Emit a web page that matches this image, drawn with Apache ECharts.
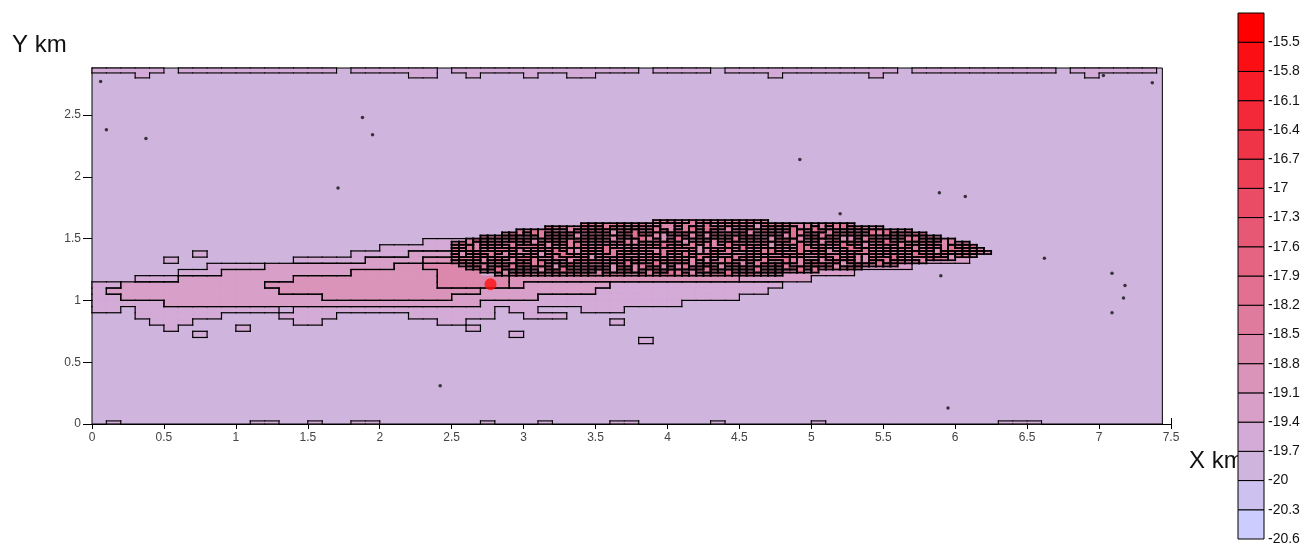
<!DOCTYPE html>
<html><head><meta charset="utf-8">
<script src="https://cdn.jsdelivr.net/npm/echarts@6/dist/echarts.min.js"></script>
<style>html,body{margin:0;padding:0;background:#fff}#c{width:1305px;height:546px}</style>
</head><body><div id="c"></div>
<script>
// ---- colour scale (bottom to top) ----
const levelLabels = [-20.6,-20.3,-20,-19.7,-19.4,-19.1,-18.8,-18.5,-18.2,-17.9,-17.6,-17.3,-17,-16.7,-16.4,-16.1,-15.8,-15.5,-15.2];
const bandColors = ['#ccccff','#cdc1f0','#cfb4de','#d4aad6','#d89fc9','#da94ba','#dc88ac','#df7c9e','#e27090','#e46482','#e75874','#ea4c65','#ed4056','#f03447','#f32838','#f71c28','#fb0e14','#ff0000'];
// ---- field codes -> values ('x' = covered by the fine core field) ----
const codeValues = {'.': -19.85, a: -19.55, b: -19.25, c: -18.95, d: -18.65, e: -18.35, f: -18.05};
const backgroundValue = -19.85;
const fieldXMax = 7.44, fieldYMax = 2.88;
// plume field: columns x 0..6.4 step 0.1, rows from y 1.70 downward step 0.05
const plumeRows = [
".......... .......... .......... .......... .......... .......... ....",
".......... .......... .......... ....xxxxxx xxxxxxxxxx xxx....... ....",
".......... .......... .......... xxxxxxxxxx xxxxxxxxxx xxxxxx.... ....",
".......... .......... ........xx xxxxxxxxxx xxxxxxxxxx xxxxxxxxx. ....",
".......... .......... ...aaaxxxx xxxxxxxxxx xxxxxxxxxx xxxxxxxxxx ....",
".......... .......... aaaaaxxxxx xxxxxxxxxx xxxxxxxxxx xxxxxxxxxx xx..",
".......a.. ........aa aabbbxxxxx xxxxxxxxxx xxxxxxxxxx xxxxxxxxxx xx..",
".....a.... ....aaaaab bbbccxxxxx xxxxxxxxxx xxxxxxxxxx xxxxxxxxbb b...",
"........aa aabbbbbbbb bccdddxxxx xxxxxxxxxx xxxxxxxxxx xxbbbbb... ....",
"......aaab bbbbbbbbcc ccccdddxxx xxxxxxxxxx xxxxxxxxbb bbb....... ....",
"...aaabbbb bbbbcccccc ccccdddddc cccccccccc cccccbbbbb .......... ....",
"aabbbbbbbb bbcccccccc ccccdddddc bbbbbbaaaa aaaaaaaa.. .......... ....",
"abbbbbbbbb bbbccccccc cccccccbbb bbbbbaaaaa aaaaaaa... .......... ....",
"aabbbbbbbb bbbbbbcccc cccccbbbbb baaaaaaaaa aaaaa..... .......... ....",
"aaaaabbbbb bbbbbbbbbb bbbbbbbaaa aaaaaaaaaa a......... .......... ....",
"aa.aaaaaaa aaa.aaaaaa aaaaaaaa.a a...aaa... .......... .......... ....",
"...aaaaaa. ...aaaa... ..aaaaaa.. aaa....... .......... .......... ....",
"....aaa... ....aa.... ....aa.... ......a... .......... .......... ....",
".....a.... a......... ......a... .......... .......... .......... ....",
".......a.. .......... .........a .......... .......... .......... ....",
".......... .......... .......... ........a. .......... .......... ....",
".......... .......... .......... .......... .......... .......... ...."
];
// fine core field: columns x 2.5..6.25 step 0.05, rows from y 1.65 downward step 0.025
const coreRows = [
"..... ..... ..... ..... ..... ...de fdcef edfde cfed. ..... ..... ..... ..... ..... .....",
"..... ..... ..... ...ef deefd efdcd dfeec fcdef edcfe fedde cdfef d.... ..... ..... .....",
"..... ..... ...fd eddfc fefdc defed dcefe ffedc decdf edfde fdcef efdcd ..... ..... .....",
"..... ....e dfeec cdfef edcfe fcdef deefd fedde eddfc defed ffedc dcefe fdce. ..... .....",
"..... ..dfe cfedf efdcd decdf fefdc edfde dfeec fdcef cdfef deefd edcfe fedde f.... .....",
"....f defed dcefe fcdef eddfc ffedc cfedf decdf efdcd edfde fefdc dfeec cdfef ded.. .....",
"..efd edcfe fdcef deefd fedde dfeec efdcd cdfef defed ffedc eddfc dcefe fcdef edfde .....",
"cfedf dfeec edfde fefdc dcefe decdf fcdef edcfe eddfc deefd cdfef efdcd ffedc fedde de...",
"edfde fdcef ffedc defed efdcd cdfef dfeec eddfc fefdc edcfe decdf fcdef dcefe cfedf edf..",
"fefdc deefd cdfef edcfe dfeec fedde eddfc defed fcdef dcefe efdcd ffedc edfde decdf fedc.",
"dcefe efdcd decdf fdcef cfedf edfde fefdc dfeec cdfef eddfc fedde deefd fcdef edcfe dfedc",
"fcdef eddfc edcfe ffedc deefd dcefe cdfef fedde efdcd defed dfeec fdcef cfedf fefdc edc..",
"deefd cfedf fedde eddfc edfde fefdc decdf dcefe fdcef ffedc cdfef edcfe efdcd dfeec .....",
"efdcd fedde defed cdfef fcdef edcfe ffedc deefd dfeec cfedf eddfc fdcef edfde d.... .....",
".dfee cdfef fefdc efdcd decdf deefd edfde fcdef dcefe fedde ffedc cfedf de... ..... .....",
"..cfe dfeec eddfc fdcef edcfe defed cdfef efdcd fefdc deefd edfde fd... ..... ..... .....",
"....d efdcd fcdef ffedc decdf dcefe fedde edcfe cdfef eddfc e.... ..... ..... ..... .....",
"..... .cdef edfde defed dfeec cfedf fefdc deefd efdcd c.... ..... ..... ..... ..... ....."
];
// top edge strip: rows from y 2.88 downward step 0.04
const topEdgeRows = [
"aaaaa.aaaa aaaaaaa.aa aaaa.aaaaa aaaaaaaa.a aaa.aaaaaa aaaaaa.aaa aaaaaaa.aa aaaa",
"...a...... .......... ..aa..a... a..aa..... .......a.. ....a..... .........a ...."
];
// bottom edge strip: row from y 0.025 downward step 0.025
const bottomEdgeRows = [
".a........ .aa..a..aa .......a.. .a....aa.. ...a...... a......... ...aaa.... ...."
];
const specks = [[0.06,2.77],[0.1,2.38],[0.375,2.31],[1.88,2.48],[1.95,2.34],[1.71,1.91],[4.92,2.14],[5.89,1.87],[6.07,1.84],[5.2,1.7],[6.62,1.34],[7.09,1.22],[7.18,1.12],[7.17,1.02],[7.09,0.9],[7.37,2.76],[7.03,2.82],[5.95,0.13],[2.42,0.31],[5.9,1.2]];
const sourcePoint = [[2.77,1.13]];

function bandOf(v){
  for (let k = 0; k < levelLabels.length - 1; k++) if (v >= levelLabels[k] && v < levelLabels[k+1]) return k;
  return 0;
}
function buildCells(rows, x0, dx, yTop, dy, lw){
  const g = rows.map(r => r.replace(/ /g, ''));
  const at = (i, j) => (i < 0 || i >= g.length || j < 0 || j >= g[i].length) ? '.' : g[i][j];
  const out = [];
  for (let i = 0; i < g.length; i++) {
    for (let j = 0; j < g[i].length; j++) {
      const ch = g[i][j];
      if (ch === '.' || ch === 'x') continue;
      const w = (n) => (n === ch || n === 'x') ? 0 : lw;
      out.push([x0 + j*dx, x0 + (j+1)*dx, yTop - (i+1)*dy, yTop - i*dy, bandOf(codeValues[ch]),
        w(at(i-1,j)), w(at(i,j+1)), w(at(i+1,j)), w(at(i,j-1))]);
    }
  }
  return out;
}
const plumeCells = [].concat(
  buildCells(plumeRows, 0, 0.1, 1.70, 0.05, 1.2),
  buildCells(topEdgeRows, 0, 0.1, 2.88, 0.04, 1.1),
  buildCells(bottomEdgeRows, 0, 0.1, 0.025, 0.025, 1.1)
);
const coreCells = buildCells(coreRows, 2.5, 0.05, 1.65, 0.025, 1.75);

function fillRender(p, api){
  const a = api.coord([api.value(0), api.value(3)]);
  const b = api.coord([api.value(1), api.value(2)]);
  const col = bandColors[api.value(4)];
  return {type: 'rect', shape: {x: a[0], y: a[1], width: b[0]-a[0], height: b[1]-a[1]},
    style: {fill: col, stroke: col, lineWidth: 0.6}};
}
function edgeRender(p, api){
  const a = api.coord([api.value(0), api.value(3)]);
  const b = api.coord([api.value(1), api.value(2)]);
  const kids = [];
  const seg = (x1, y1, x2, y2, w) => { if (w > 0) kids.push({type: 'line', shape: {x1, y1, x2, y2},
    style: {stroke: '#000', lineWidth: w, lineCap: 'square'}}); };
  seg(a[0], a[1], b[0], a[1], api.value(5));
  seg(b[0], a[1], b[0], b[1], api.value(6));
  seg(a[0], b[1], b[0], b[1], api.value(7));
  seg(a[0], a[1], a[0], b[1], api.value(8));
  return {type: 'group', children: kids};
}

const chart = echarts.init(document.getElementById('c'), null, {renderer: 'canvas'});
const font = 'Liberation Sans, Arial, sans-serif';
const axisCommon = {
  axisLine: {show: true, lineStyle: {color: '#000', width: 1}},
  splitLine: {show: false}
};
const fieldSeries = (data, z) => [
  {type: 'custom', xAxisIndex: 0, yAxisIndex: 0, z: z, data: data, encode: {x: [0, 1], y: [2, 3]}, renderItem: fillRender},
  {type: 'custom', xAxisIndex: 0, yAxisIndex: 0, z: z + 1, data: data, encode: {x: [0, 1], y: [2, 3]}, renderItem: edgeRender}
];
chart.setOption({
  animation: false,
  backgroundColor: '#fff',
  textStyle: {fontFamily: font},
  graphic: [
    {type: 'text', left: 12, top: 33, style: {text: 'Y km', font: '24px ' + font, fill: '#111'}},
    {type: 'text', left: 1189, top: 449, style: {text: 'X km', font: '24px ' + font, fill: '#111'}}
  ],
  grid: [
    {left: 92, right: 134, top: 68, bottom: 122},
    {left: 1238, width: 26, top: 13, bottom: 4}
  ],
  xAxis: [
    Object.assign({gridIndex: 0, type: 'value', min: 0, max: 7.5, interval: 0.5, position: 'bottom',
      axisTick: {show: true, length: 5, lineStyle: {color: '#000'}},
      axisLabel: {fontSize: 12, color: '#444', margin: 8}}, axisCommon),
    Object.assign({gridIndex: 0, type: 'value', min: 0, max: 7.5, interval: 0.5, position: 'top',
      axisTick: {show: true, length: 6, lineStyle: {color: '#000'}},
      axisLabel: {show: false}}, axisCommon),
    {gridIndex: 1, type: 'value', min: 0, max: 1, show: false}
  ],
  yAxis: [
    Object.assign({gridIndex: 0, type: 'value', min: 0, max: fieldYMax, interval: 0.5, position: 'left',
      axisTick: {show: true, length: 9, lineStyle: {color: '#000'}},
      axisLabel: {fontSize: 12, color: '#444', margin: 11, showMaxLabel: false}}, axisCommon),
    Object.assign({gridIndex: 0, type: 'value', min: 0, max: fieldYMax, interval: 0.5, position: 'right',
      axisTick: {show: true, length: 7, lineStyle: {color: '#000'}},
      axisLabel: {show: false}}, axisCommon),
    {gridIndex: 1, type: 'value', min: 0, max: 18, interval: 1, position: 'right',
      axisLine: {show: false}, axisTick: {show: false}, splitLine: {show: false},
      axisLabel: {fontSize: 14, color: '#111', margin: 4, fontFamily: font,
        formatter: v => v < 18 ? String(levelLabels[v]) : ''}}
  ],
  series: [
    { // background field
      type: 'custom', xAxisIndex: 0, yAxisIndex: 0, z: 1,
      data: [[0, fieldXMax, 0, fieldYMax]],
      encode: {x: [0, 1], y: [2, 3]},
      renderItem: (p, api) => {
        const a = api.coord([api.value(0), api.value(3)]);
        const b = api.coord([api.value(1), api.value(2)]);
        return {type: 'rect', shape: {x: a[0], y: a[1], width: b[0]-a[0], height: b[1]-a[1]},
          style: {fill: bandColors[bandOf(backgroundValue)], stroke: '#000', lineWidth: 1}};
      }
    }
  ].concat(fieldSeries(plumeCells, 2), fieldSeries(coreCells, 4), [
    {
      type: 'scatter', xAxisIndex: 0, yAxisIndex: 0, z: 7, data: specks,
      symbol: 'circle', symbolSize: 3.5, itemStyle: {color: '#111'}
    },
    {
      type: 'scatter', xAxisIndex: 0, yAxisIndex: 0, z: 8, data: sourcePoint,
      symbol: 'circle', symbolSize: 12, itemStyle: {color: '#ff1010'}
    },
    { // colour bar
      type: 'custom', xAxisIndex: 2, yAxisIndex: 2, z: 3,
      data: bandColors.map((c, i) => [i, i + 1]),
      encode: {y: [0, 1]},
      renderItem: (p, api) => {
        const a = api.coord([0, api.value(1)]);
        const b = api.coord([1, api.value(0)]);
        return {type: 'rect', shape: {x: a[0], y: a[1], width: b[0]-a[0], height: b[1]-a[1]},
          style: {fill: bandColors[p.dataIndex], stroke: '#000', lineWidth: 1}};
      }
    }
  ])
});
</script></body></html>
